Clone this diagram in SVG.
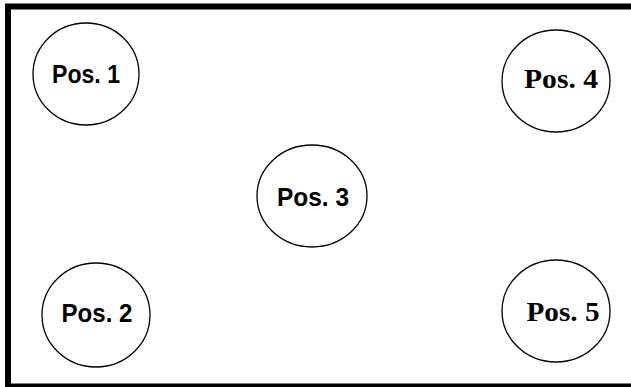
<svg xmlns="http://www.w3.org/2000/svg" width="631" height="387" viewBox="0 0 631 387">
<style>
.node ellipse{fill:#fff;stroke:#000;stroke-width:1.3}
.sans{font-family:"Liberation Sans",Arial,sans-serif;font-weight:bold;font-size:26px;text-anchor:middle;fill:#000}
.serif{font-family:"Liberation Serif","Times New Roman",serif;font-weight:bold;font-size:28px;text-anchor:middle;fill:#000}
</style>
<rect width="631" height="387" fill="#fff"/>
<rect x="8" y="6.5" width="640" height="380" fill="none" stroke="#000" stroke-width="6"/>
<g id="connectors"></g>
<g id="pos1" class="node"><ellipse cx="86" cy="74" rx="53" ry="51"/><text class="sans" x="86" y="83" textLength="68" lengthAdjust="spacingAndGlyphs">Pos. 1</text></g>
<g id="pos2" class="node"><ellipse cx="96" cy="315" rx="54" ry="52"/><text class="sans" x="97" y="322" textLength="71" lengthAdjust="spacingAndGlyphs">Pos. 2</text></g>
<g id="pos3" class="node"><ellipse cx="312" cy="196" rx="55" ry="51"/><text class="sans" x="313" y="206" textLength="72" lengthAdjust="spacingAndGlyphs">Pos. 3</text></g>
<g id="pos4" class="node"><ellipse cx="556" cy="81" rx="54" ry="51"/><text class="serif" x="561" y="88" textLength="74" lengthAdjust="spacingAndGlyphs">Pos. 4</text></g>
<g id="pos5" class="node"><ellipse cx="556" cy="311" rx="54" ry="51"/><text class="serif" x="563" y="321" textLength="73" lengthAdjust="spacingAndGlyphs">Pos. 5</text></g>
</svg>
